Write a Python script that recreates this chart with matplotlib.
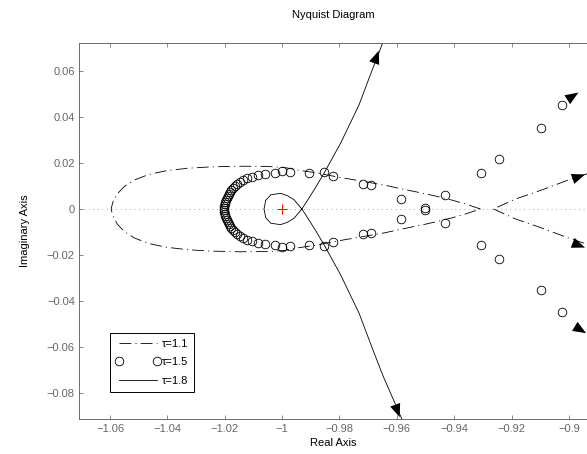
"""
Nyquist diagram for three delay values (tau = 1.1, 1.5, 1.8)
"""
import matplotlib
matplotlib.use("Agg")
import matplotlib.pyplot as plt
import numpy as np

plt.rcParams['font.family'] = ['Liberation Sans', 'DejaVu Sans']
plt.rcParams['lines.scale_dashes'] = False

# tau = 1.1 : upper half, from the right end to the left tip (lower half is the mirror)
# the two pieces meet the real axis separately, so a NaN splits them
tau11_x = [-0.8850, -0.8944, -0.9002, -0.9094, -0.9187, -0.9263, np.nan, -0.9309, -0.9361,
           -0.9409, -0.9454, -0.9500, -0.9593, -0.9640, -0.9755, -0.9802, -0.9880,
           -0.9940, -0.9990, -1.0050, -1.0150, -1.0250, -1.0330, -1.0405, -1.0465,
           -1.0515, -1.0550, -1.0575, -1.0590, -1.0596]
tau11_y = [0.0190, 0.0150, 0.0126, 0.0083, 0.0043, 0.0000, np.nan, 0.0000, 0.0022,
           0.0039, 0.0053, 0.0066, 0.0090, 0.0103, 0.0128, 0.0138, 0.0157,
           0.0168, 0.0180, 0.0185, 0.0186, 0.0183, 0.0177, 0.0166, 0.0150,
           0.0126, 0.0098, 0.0065, 0.0030, 0.0000]

# tau = 1.5 : sampled points, upper half (lower half is the mirror)
tau15_x = [-1.0202, -1.0201, -1.0200, -1.0198, -1.0196, -1.0193, -1.0190, -1.0186,
           -1.0182, -1.0177, -1.0171, -1.0164, -1.0156, -1.0147, -1.0136, -1.0122,
           -1.0105, -1.0085, -1.0060, -1.0024, -0.9999, -0.9973, -0.9906, -0.9854,
           -0.9823, -0.9717, -0.9689, -0.9587, -0.9503, -0.9433, -0.9305, -0.9245,
           -0.9098, -0.9023]
tau15_y = [0.0005, 0.0012, 0.0020, 0.0029, 0.0038, 0.0047, 0.0056, 0.0065,
           0.0074, 0.0083, 0.0092, 0.0101, 0.0110, 0.0119, 0.0127, 0.0135,
           0.0141, 0.0146, 0.0151, 0.0158, 0.0166, 0.0162, 0.0158, 0.0160,
           0.0144, 0.0107, 0.0104, 0.0044, 0.0003, 0.0062, 0.0155, 0.0219,
           0.0353, 0.0450]

# tau = 1.8 : positive-frequency branch, from the top down into the small loop
tau18_x = [-0.9580, -0.9648, -0.9686, -0.9732, -0.9796, -0.9854, -0.9885, -0.9918,
           -0.9931, -0.9958, -0.9982, -1.0005, -1.0039, -1.0057, -1.0063]
tau18_y = [0.0920, 0.0726, 0.0604, 0.0452, 0.0286, 0.0155, 0.0090, 0.0025,
           0.0000, -0.0040, -0.0058, -0.0068, -0.0062, -0.0038, 0.0000]

# direction arrows: (tip x, tip y, tail x, tail y)
arrows_11 = [(-0.8944, 0.0150, -0.9094, 0.0083), (-0.8944, -0.0168, -0.9094, -0.0095)]
arrows_15 = [(-0.8967, 0.0506, -0.9050, 0.0440), (-0.8940, -0.0540, -0.9020, -0.0480)]
arrows_18 = [(-0.9663, 0.0688, -0.9718, 0.0500), (-0.9590, -0.0905, -0.9650, -0.0700)]

labels = ['τ=1.1', 'τ=1.5', 'τ=1.8']

xticks = [-1.06, -1.04, -1.02, -1.0, -0.98, -0.96, -0.94, -0.92, -0.9]
xticklabels = ['−1.06', '−1.04', '−1.02', '−1', '−0.98', '−0.96', '−0.94', '−0.92', '−0.9']
yticks = [-0.08, -0.06, -0.04, -0.02, 0.0, 0.02, 0.04, 0.06]
yticklabels = ['−0.08', '−0.06', '−0.04', '−0.02', '0', '0.02', '0.04', '0.06']


def mirror(xs, ys):
    """Append the complex-conjugate branch (negative frequencies)."""
    xs = np.asarray(xs, dtype=float)
    ys = np.asarray(ys, dtype=float)
    return np.concatenate([xs, xs[::-1]]), np.concatenate([ys, -ys[::-1]])


fig = plt.figure(figsize=(5.87, 4.54), dpi=100)
ax = fig.add_axes([0.1346, 0.0771, 0.8654, 0.8289])

# zero line and critical point
ax.axhline(0, color='#a8a8a8', lw=0.7, dashes=(0.7, 2.6), zorder=1)
ax.plot([-1], [0], marker='+', color='red', ms=7, mew=0.7, ls='none', zorder=4)

x11, y11 = mirror(tau11_x, tau11_y)
ax.plot(x11, y11, color='black', lw=0.6, dashes=(8.5, 3.0, 0.8, 3.0), label=labels[0])

x15, y15 = mirror(tau15_x, tau15_y)
ax.plot(x15, y15, ls='none', marker='o', ms=6.2, mfc='none', mec='black', mew=0.6,
        label=labels[1])

x18, y18 = mirror(tau18_x, tau18_y)
ax.plot(x18, y18, color='black', lw=0.6, label=labels[2])

for tx, ty, sx, sy in arrows_11 + arrows_15 + arrows_18:
    ax.annotate('', xy=(tx, ty), xytext=(sx, sy),
                arrowprops=dict(arrowstyle='-|>,head_length=0.95,head_width=0.38',
                                fc='black', ec='black', lw=0, shrinkA=0, shrinkB=0,
                                mutation_scale=10))

ax.set_xlim(-1.0708, -0.8937)
ax.set_ylim(-0.0913, 0.0723)
ax.set_xticks(xticks)
ax.set_xticklabels(xticklabels)
ax.set_yticks(yticks)
ax.set_yticklabels(yticklabels)

ax.tick_params(direction='in', length=3.2, width=0.5, color='#555555',
               labelcolor='#666666', labelsize=8, top=True, right=False)
ax.tick_params(axis='x', pad=3.5)
ax.tick_params(axis='y', pad=3)
for side in ['left', 'top', 'bottom']:
    ax.spines[side].set_color('#555555')
    ax.spines[side].set_linewidth(0.6)
ax.spines['right'].set_visible(False)

ax.set_title('Nyquist Diagram', fontsize=8, pad=17.5)
ax.set_xlabel('Real Axis', fontsize=8, labelpad=3)
ax.set_ylabel('Imaginary Axis', fontsize=8, labelpad=12)

leg = ax.legend(loc='lower left', bbox_to_anchor=(0.061, 0.0726), borderaxespad=0,
                fontsize=8, numpoints=2, handlelength=4.0, handletextpad=0.1,
                labelspacing=0.75, borderpad=0.55, fancybox=False, framealpha=1,
                edgecolor='black')
leg.get_frame().set_linewidth(0.7)

plt.savefig('out.png', dpi=100)
